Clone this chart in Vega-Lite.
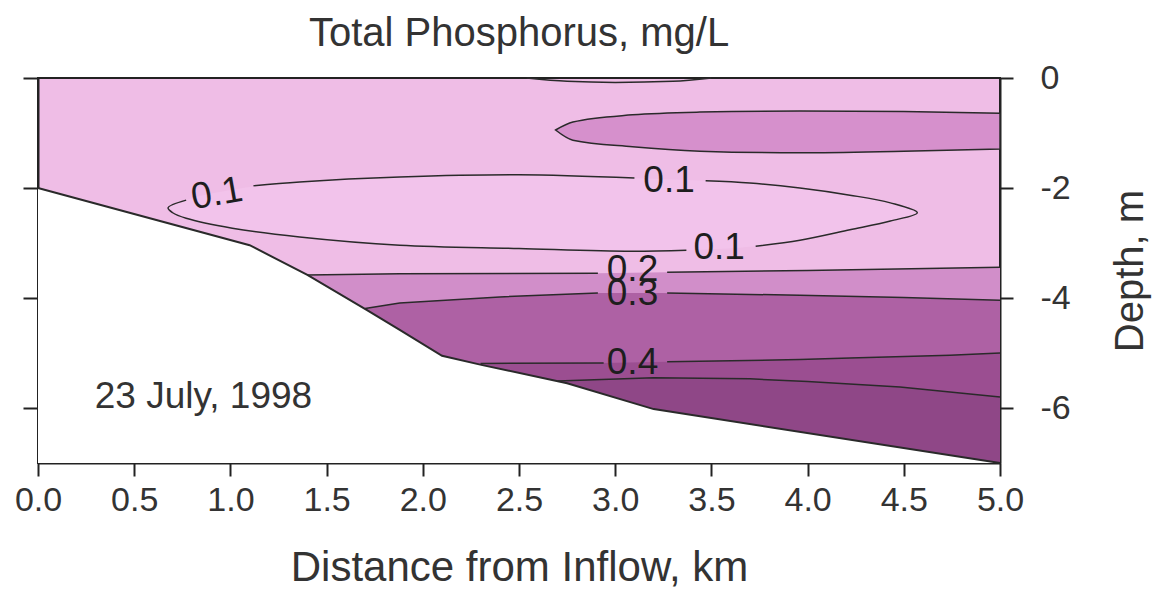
{
  "$schema": "https://vega.github.io/schema/vega-lite/v6.json",
  "width": 962,
  "height": 385,
  "autosize": {"type": "none"},
  "padding": {"left": 38, "top": 78, "right": 154, "bottom": 134},
  "title": {"text": "Total Phosphorus, mg/L", "fontSize": 40, "font": "Liberation Sans", "fontWeight": "normal", "color": "#333333", "anchor": "middle", "frame": "group", "offset": 7},
  "config": {
    "view": {"stroke": "#222222", "strokeWidth": 2, "fill": "#efbde6"},
    "axis": {"labelFont": "Liberation Sans", "titleFont": "Liberation Sans", "labelColor": "#333333", "titleColor": "#333333", "domainColor": "#222222", "tickColor": "#222222", "domainWidth": 2, "tickWidth": 2, "grid": false, "titleFontWeight": "normal"}
  },
  "datasets": {
    "bathy": [
      {"x": 0, "y": -2}, {"x": 1.1, "y": -3.04}, {"x": 1.4, "y": -3.58}, {"x": 1.71, "y": -4.22},
      {"x": 1.88, "y": -4.58}, {"x": 2.1, "y": -5.05}, {"x": 2.31, "y": -5.22}, {"x": 2.75, "y": -5.55},
      {"x": 3.2, "y": -6.02}, {"x": 5, "y": -7}
    ],
    "c02": [
      {"x": 1.4, "y": -3.58, "seg": "a"}, {"x": 1.88, "y": -3.56, "seg": "a"}, {"x": 2.91, "y": -3.55, "seg": "a"},
      {"x": 3.27, "y": -3.53, "seg": "b"}, {"x": 4.0, "y": -3.5, "seg": "b"}, {"x": 5, "y": -3.44, "seg": "b"}
    ],
    "c03": [
      {"x": 1.7, "y": -4.19, "seg": "a"}, {"x": 1.88, "y": -4.09, "seg": "a"}, {"x": 2.4, "y": -3.98, "seg": "a"},
      {"x": 2.91, "y": -3.91, "seg": "a"}, {"x": 3.27, "y": -3.91, "seg": "b"}, {"x": 3.96, "y": -3.95, "seg": "b"},
      {"x": 4.5, "y": -3.99, "seg": "b"}, {"x": 5, "y": -4.04, "seg": "b"}
    ],
    "c04": [
      {"x": 2.3, "y": -5.19, "seg": "a"}, {"x": 2.94, "y": -5.18, "seg": "a"}, {"x": 3.27, "y": -5.16, "seg": "b"},
      {"x": 3.96, "y": -5.12, "seg": "b"}, {"x": 4.22, "y": -5.09, "seg": "b"}, {"x": 4.74, "y": -5.04, "seg": "b"},
      {"x": 5, "y": -5.0, "seg": "b"}
    ],
    "c05": [
      {"x": 2.7, "y": -5.51}, {"x": 3.2, "y": -5.45}, {"x": 3.7, "y": -5.47}, {"x": 4.0, "y": -5.52},
      {"x": 4.48, "y": -5.62}, {"x": 5, "y": -5.8}
    ],
    "ellB": [
      {"x": 2.69, "y": -0.945, "y2": -0.945}, {"x": 2.78, "y": -0.8, "y2": -1.13}, {"x": 3.09, "y": -0.67, "y2": -1.25},
      {"x": 3.44, "y": -0.62, "y2": -1.33}, {"x": 3.96, "y": -0.6, "y2": -1.36}, {"x": 4.5, "y": -0.61, "y2": -1.33},
      {"x": 5, "y": -0.64, "y2": -1.29}
    ],
    "ell1": [
      {"x": 0.676, "y": -2.36, "y2": -2.36}, {"x": 0.77, "y": -2.22, "y2": -2.55}, {"x": 1.01, "y": -2.03, "y2": -2.73},
      {"x": 1.36, "y": -1.89, "y2": -2.89}, {"x": 1.88, "y": -1.8, "y2": -3.04}, {"x": 2.5, "y": -1.76, "y2": -3.1},
      {"x": 3.08, "y": -1.82, "y2": -3.15}, {"x": 3.47, "y": -1.87, "y2": -3.12}, {"x": 3.7, "y": -1.91, "y2": -3.07},
      {"x": 3.96, "y": -2.0, "y2": -2.95}, {"x": 4.22, "y": -2.13, "y2": -2.76}, {"x": 4.43, "y": -2.27, "y2": -2.6},
      {"x": 4.57, "y": -2.45, "y2": -2.45}
    ],
    "ell1line": [
      {"x": 1.12, "y": -1.96, "seg": "a", "o": 1}, {"x": 1.36, "y": -1.89, "seg": "a", "o": 2}, {"x": 1.88, "y": -1.8, "seg": "a", "o": 3},
      {"x": 2.5, "y": -1.76, "seg": "a", "o": 4}, {"x": 3.1, "y": -1.82, "seg": "a", "o": 5},
      {"x": 3.47, "y": -1.87, "seg": "b", "o": 1}, {"x": 3.7, "y": -1.91, "seg": "b", "o": 2}, {"x": 3.96, "y": -2.0, "seg": "b", "o": 3},
      {"x": 4.22, "y": -2.13, "seg": "b", "o": 4}, {"x": 4.43, "y": -2.27, "seg": "b", "o": 5}, {"x": 4.57, "y": -2.45, "seg": "b", "o": 6},
      {"x": 4.43, "y": -2.6, "seg": "b", "o": 7}, {"x": 4.22, "y": -2.76, "seg": "b", "o": 8}, {"x": 3.96, "y": -2.95, "seg": "b", "o": 9},
      {"x": 3.73, "y": -3.06, "seg": "b", "o": 10},
      {"x": 3.37, "y": -3.13, "seg": "c", "o": 1}, {"x": 3.08, "y": -3.15, "seg": "c", "o": 2}, {"x": 2.5, "y": -3.1, "seg": "c", "o": 3},
      {"x": 1.88, "y": -3.04, "seg": "c", "o": 4}, {"x": 1.36, "y": -2.89, "seg": "c", "o": 5}, {"x": 1.01, "y": -2.73, "seg": "c", "o": 6},
      {"x": 0.77, "y": -2.55, "seg": "c", "o": 7}, {"x": 0.7, "y": -2.45, "seg": "c", "o": 8}, {"x": 0.676, "y": -2.36, "seg": "c", "o": 9},
      {"x": 0.77, "y": -2.22, "seg": "c", "o": 10}
    ],
    "surf": [
      {"x": 2.54, "y": 0}, {"x": 2.75, "y": -0.06}, {"x": 3.0, "y": -0.08}, {"x": 3.3, "y": -0.06}, {"x": 3.5, "y": 0}
    ],
    "labels": [
      {"x": 3.28, "y": -1.87, "t": "0.1"}, {"x": 3.54, "y": -3.09, "t": "0.1"}, {"x": 3.09, "y": -3.49, "t": "0.2"},
      {"x": 3.09, "y": -3.93, "t": "0.3"}, {"x": 3.09, "y": -5.18, "t": "0.4"}
    ],
    "rlabel": [{"x": 0.93, "y": -2.11, "t": "0.1"}],
    "note": [{"x": 0.86, "y": -6.0, "t": "23 July, 1998"}]
  },
  "encoding": {
    "x": {"field": "x", "type": "quantitative", "scale": {"domain": [0, 5], "nice": false, "zero": false},
      "axis": {"orient": "bottom", "values": [0, 0.5, 1, 1.5, 2, 2.5, 3, 3.5, 4, 4.5, 5], "format": ".1f", "labelFlush": false,
        "labelFontSize": 34, "tickSize": 13, "labelPadding": 7, "title": "Distance from Inflow, km", "titleFontSize": 42, "titlePadding": 30}},
    "y": {"field": "y", "type": "quantitative", "scale": {"domain": [-7, 0], "nice": false, "zero": false}, "axis": null}
  },
  "resolve": {"axis": {"y": "independent"}},
  "layer": [
    {"data": {"name": "c02"}, "mark": {"type": "area", "color": "#d18ec9"},
      "encoding": {"y": {"field": "y", "type": "quantitative", "scale": {"domain": [-7, 0], "nice": false, "zero": false},
        "axis": {"orient": "left", "values": [-6, -4, -2, 0], "labels": false, "tickSize": 15, "title": null}}, "y2": {"datum": -7}}},
    {"data": {"name": "c03"}, "mark": {"type": "area", "color": "#ae61a4"}, "encoding": {"y2": {"datum": -7}}},
    {"data": {"name": "c04"}, "mark": {"type": "area", "color": "#9b4e91"}, "encoding": {"y2": {"datum": -7}}},
    {"data": {"name": "c05"}, "mark": {"type": "area", "color": "#8f4787"}, "encoding": {"y2": {"datum": -7}}},
    {"data": {"name": "ellB"}, "mark": {"type": "area", "fill": "#d690cc", "stroke": "#2a2a2a", "strokeWidth": 1.5, "interpolate": "monotone"},
      "encoding": {"y2": {"field": "y2"}}},
    {"data": {"name": "ell1"}, "mark": {"type": "area", "color": "#f2c3eb", "interpolate": "monotone"},
      "encoding": {"y2": {"field": "y2"}}},
    {"data": {"name": "bathy"}, "mark": {"type": "area", "color": "#ffffff"},
      "encoding": {"y": {"field": "y", "type": "quantitative", "scale": {"domain": [-7, 0], "nice": false, "zero": false},
        "axis": {"orient": "right", "values": [-6, -4, -2, 0], "tickSize": 13, "labelPadding": 27, "labelFontSize": 34,
          "labelExpr": "datum.value < 0 ? '-' + (-datum.value) : '' + datum.value", "labelBaseline": "middle",
          "title": "Depth, m", "titleFontSize": 40, "titleAngle": 270, "titleBaseline": "top", "titlePadding": 40}}, "y2": {"datum": -7}}},
    {"data": {"name": "bathy"}, "mark": {"type": "line", "color": "#2a2a2a", "strokeWidth": 2}, "encoding": {}},
    {"data": {"name": "c02"}, "mark": {"type": "line", "color": "#2a2a2a", "strokeWidth": 1.5}, "encoding": {"detail": {"field": "seg"}}},
    {"data": {"name": "c03"}, "mark": {"type": "line", "color": "#2a2a2a", "strokeWidth": 1.5}, "encoding": {"detail": {"field": "seg"}}},
    {"data": {"name": "c04"}, "mark": {"type": "line", "color": "#2a2a2a", "strokeWidth": 1.5}, "encoding": {"detail": {"field": "seg"}}},
    {"data": {"name": "c05"}, "mark": {"type": "line", "color": "#2a2a2a", "strokeWidth": 1.5}, "encoding": {}},
    {"data": {"name": "ell1line"}, "mark": {"type": "line", "color": "#2a2a2a", "strokeWidth": 1.5, "interpolate": "catmull-rom"},
      "encoding": {"detail": {"field": "seg"}, "order": {"field": "o", "type": "quantitative"}}},
    {"data": {"name": "surf"}, "mark": {"type": "line", "color": "#2a2a2a", "strokeWidth": 1.5, "interpolate": "monotone"}, "encoding": {}},
    {"data": {"name": "labels"}, "mark": {"type": "text", "fontSize": 37, "font": "Liberation Sans", "color": "#1e1e1e", "align": "center", "baseline": "middle"},
      "encoding": {"text": {"field": "t"}}},
    {"data": {"name": "rlabel"}, "mark": {"type": "text", "fontSize": 37, "font": "Liberation Sans", "color": "#1e1e1e", "align": "center", "baseline": "middle", "angle": 350},
      "encoding": {"text": {"field": "t"}}},
    {"data": {"name": "note"}, "mark": {"type": "text", "fontSize": 37, "font": "Liberation Sans", "color": "#333333", "align": "center", "baseline": "alphabetic"},
      "encoding": {"text": {"field": "t"}}}
  ]
}
